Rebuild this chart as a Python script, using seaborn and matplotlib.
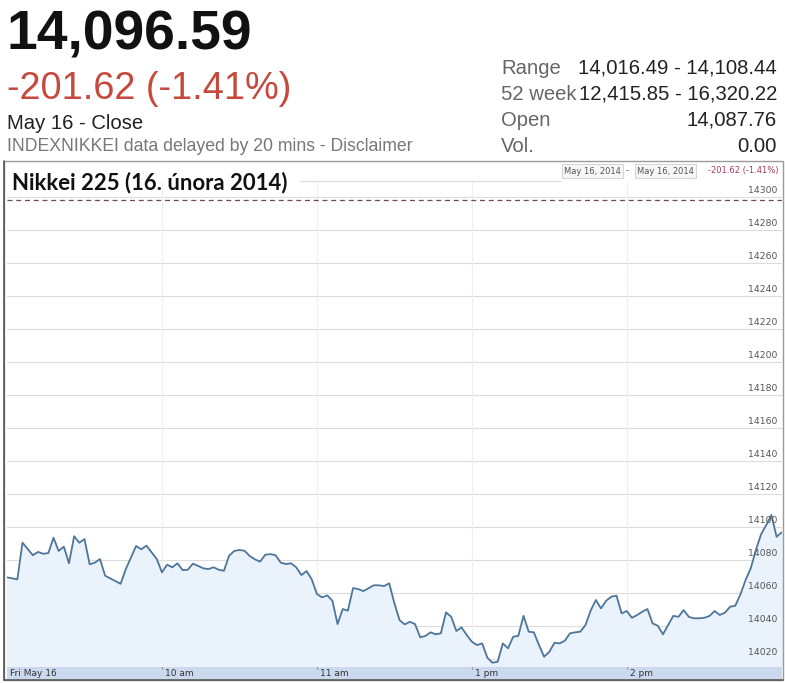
import matplotlib
matplotlib.use("Agg")
import pandas as pd
import matplotlib.pyplot as plt
import seaborn as sns
from matplotlib.patches import Rectangle
from matplotlib.lines import Line2D

# =========================
# Data
# =========================
# trading minutes since 9:00 open, lunch break removed (11:30-12:30)
minutes = [0, 4, 6, 10, 12, 14, 16, 18, 20, 22, 24, 26, 28, 30, 32, 34, 36, 38, 44, 46,
           50, 52, 54, 58, 60, 62, 64, 66, 68, 70, 72, 74, 76, 78, 80, 82, 84, 86, 88, 90,
           92, 94, 96, 98, 100, 102, 104, 106, 108, 110, 112, 114, 116, 118, 120, 122, 124,
           126, 128, 130, 132, 134, 136, 138, 140, 142, 144, 146, 148, 150, 152, 154, 156,
           158, 160, 162, 164, 166, 168, 170, 172, 174, 176, 178, 180, 182, 184, 186, 188,
           190, 192, 194, 196, 198, 200, 202, 204, 206, 208, 210, 212, 214, 216, 218, 220,
           222, 224, 226, 228, 230, 232, 234, 236, 238, 240, 242, 244, 246, 248, 250, 252,
           254, 256, 258, 260, 262, 264, 266, 268, 270, 272, 274, 276, 278, 280, 282, 284,
           286, 288, 290, 292, 294, 296, 298, 300]
values = [14069.5, 14068.3, 14090.5, 14082.9, 14084.9, 14083.8, 14084.2, 14093.5, 14085.5,
          14088.1, 14078.0, 14094.4, 14090.5, 14092.7, 14077.4, 14078.4, 14080.6, 14070.5,
          14065.6, 14074.5, 14088.5, 14086.5, 14088.7, 14080.6, 14072.5, 14077.2, 14075.6,
          14078.0, 14073.9, 14074.1, 14077.8, 14076.4, 14075.0, 14074.5, 14075.6, 14074.1,
          14073.5, 14082.6, 14085.5, 14086.1, 14085.6, 14082.4, 14080.4, 14079.0, 14083.2,
          14083.6, 14082.9, 14078.4, 14077.6, 14078.0, 14075.6, 14070.9, 14073.3, 14068.3,
          14059.4, 14057.4, 14058.6, 14055.3, 14041.2, 14050.3, 14049.3, 14063.0, 14062.4,
          14061.2, 14062.9, 14064.7, 14064.7, 14064.2, 14065.9, 14053.8, 14043.6, 14041.0,
          14042.6, 14041.2, 14033.2, 14034.0, 14036.2, 14035.0, 14035.6, 14048.3, 14045.6,
          14037.0, 14039.2, 14034.6, 14030.5, 14028.5, 14029.5, 14020.8, 14017.8, 14018.4,
          14029.5, 14026.5, 14033.5, 14034.1, 14046.2, 14036.6, 14036.2, 14028.5, 14021.4,
          14024.4, 14029.9, 14029.5, 14031.1, 14035.6, 14036.2, 14036.6, 14040.6, 14049.3,
          14055.8, 14050.7, 14055.3, 14057.8, 14058.4, 14047.7, 14049.1, 14045.0, 14046.7,
          14048.7, 14050.3, 14041.6, 14040.2, 14035.0, 14040.6, 14046.2, 14045.6, 14049.7,
          14045.6, 14044.7, 14044.7, 14045.0, 14046.1, 14049.1, 14046.7, 14048.1, 14051.7,
          14052.3, 14059.2, 14067.9, 14075.0, 14086.1, 14095.6, 14101.2, 14107.3, 14094.1,
          14096.8]

y_ticks = [14020, 14040, 14060, 14080, 14100, 14120, 14140, 14160, 14180, 14200,
           14220, 14240, 14260, 14280, 14300]
x_ticks = [0, 60, 120, 180, 240]
x_tick_labels = ["Fri May 16", "10 am", "11 am", "1 pm", "2 pm"]
prev_close = 14298.21

header_price = "14,096.59"
header_change = "-201.62 (-1.41%)"
header_date = "May 16 - Close"
header_note = "INDEXNIKKEI data delayed by 20 mins - Disclaimer"
stat_labels = ["Range", "52 week", "Open", "Vol."]
stat_values = ["14,016.49 - 14,108.44", "12,415.85 - 16,320.22", "14,087.76", "0.00"]
chart_title = "Nikkei 225 (16. února 2014)"

df = pd.DataFrame({"minute": minutes, "value": values})

# =========================
# Figure
# =========================
sns.set_style("white")
plt.rcParams["font.family"] = ["Liberation Sans", "DejaVu Sans"]

W, H = 785, 683
fig = plt.figure(figsize=(W / 100, H / 100), dpi=100)


def fx(px):
    return px / W


def fy(py):
    return 1 - py / H


# header texts
fig.text(fx(7), fy(50), header_price, fontsize=39.8, fontweight="bold", color="#111111", va="baseline")
fig.text(fx(7), fy(99), header_change, fontsize=27.3, color="#c5493d", va="baseline")
fig.text(fx(7), fy(129), header_date, fontsize=14.6, color="#222222", va="baseline")
fig.text(fx(7), fy(151), header_note, fontsize=12.7, color="#777777", va="baseline")

for i, (lab, val) in enumerate(zip(stat_labels, stat_values)):
    base = 73.5 + 26 * i
    fig.text(fx(501), fy(base), lab, fontsize=14.6, color="#666666", va="baseline")
    fig.text(fx(777), fy(base), val, fontsize=14.6, color="#222222", va="baseline", ha="right")

# chart frame
fig.add_artist(Rectangle((fx(3.5), fy(680)), fx(779), (680 - 161) / H, transform=fig.transFigure,
                         fill=False, edgecolor="#9a9a9a", linewidth=1.0))
fig.add_artist(Line2D([fx(3.5), fx(3.5)], [fy(161), fy(680)], transform=fig.transFigure,
                      color="#555555", linewidth=1.2))
fig.add_artist(Line2D([fx(3.5), fx(782.5)], [fy(680), fy(680)], transform=fig.transFigure,
                      color="#555555", linewidth=1.2))
fig.add_artist(Line2D([fx(300), fx(560)], [fy(181), fy(181)], transform=fig.transFigure,
                      color="#dddddd", linewidth=0.9))

fig.text(fx(12), fy(189), chart_title, fontsize=15.9, fontweight="bold", color="#111111",
         va="baseline", family=["Lato", "DejaVu Sans"])

# date range box (top right)
box_style = dict(boxstyle="square,pad=0.25", facecolor="#f7f7f7", edgecolor="#d6d6d6", linewidth=0.8)
fig.text(fx(564), fy(171), "May 16, 2014", fontsize=6.0, color="#555555", va="center",
         family=["DejaVu Sans"], bbox=box_style)
fig.text(fx(626), fy(171), "-", fontsize=6.0, color="#555555", va="center", family=["DejaVu Sans"])
fig.text(fx(637), fy(171), "May 16, 2014", fontsize=6.0, color="#555555", va="center",
         family=["DejaVu Sans"], bbox=box_style)
fig.text(fx(779), fy(171), "-201.62 (-1.41%)", fontsize=6.0, color="#a33a5e", va="center", ha="right",
         family=["DejaVu Sans"])

# =========================
# Plot area
# =========================
ax = fig.add_axes([fx(7), fy(667), fx(775), (667 - 182) / H])
ax.set_xlim(0, 300.1)
ax.set_ylim(14015.2, 14309.0)

for v in y_ticks:
    ax.axhline(v, color="#dcdcdc", linewidth=0.8, zorder=0)
    ax.annotate(str(v), xy=(1, v), xycoords=("axes fraction", "data"), xytext=(-3, 1.2),
                textcoords="offset points", ha="right", va="bottom", fontsize=6.7,
                color="#555555", family=["DejaVu Sans"], zorder=5)
for t in x_ticks[1:]:
    ax.axvline(t, color="#eeeeee", linewidth=0.8, zorder=0)

ax.fill_between(df["minute"], df["value"], 14000, color="#eaf3fb", zorder=1)
sns.lineplot(data=df, x="minute", y="value", ax=ax, color="#4f7699", linewidth=1.3, zorder=3)
ax.axhline(prev_close, color="#6a4c52", linewidth=0.9, linestyle=(0, (4, 3)), zorder=4)

ax.set_xticks([])
ax.set_yticks([])
ax.set_xlabel("")
ax.set_ylabel("")
for s in ax.spines.values():
    s.set_visible(False)

# x axis band
axb = fig.add_axes([fx(7), fy(679), fx(775), 12 / H])
axb.set_xlim(0, 300.1)
axb.set_ylim(0, 1)
axb.set_facecolor("#cad9ed")
for s in axb.spines.values():
    s.set_visible(False)
axb.set_xticks([])
axb.set_yticks([])
for t, lab in zip(x_ticks, x_tick_labels):
    axb.annotate(lab, xy=(t, 0.45), xycoords="data", xytext=(2.4, 0), textcoords="offset points",
                 ha="left", va="center", fontsize=6.5, color="#333333", family=["DejaVu Sans"])
    if t > 0:
        axb.plot([t, t], [0.85, 1.0], color="#999999", linewidth=0.8, clip_on=False)

fig.savefig("out.png", dpi=100)
